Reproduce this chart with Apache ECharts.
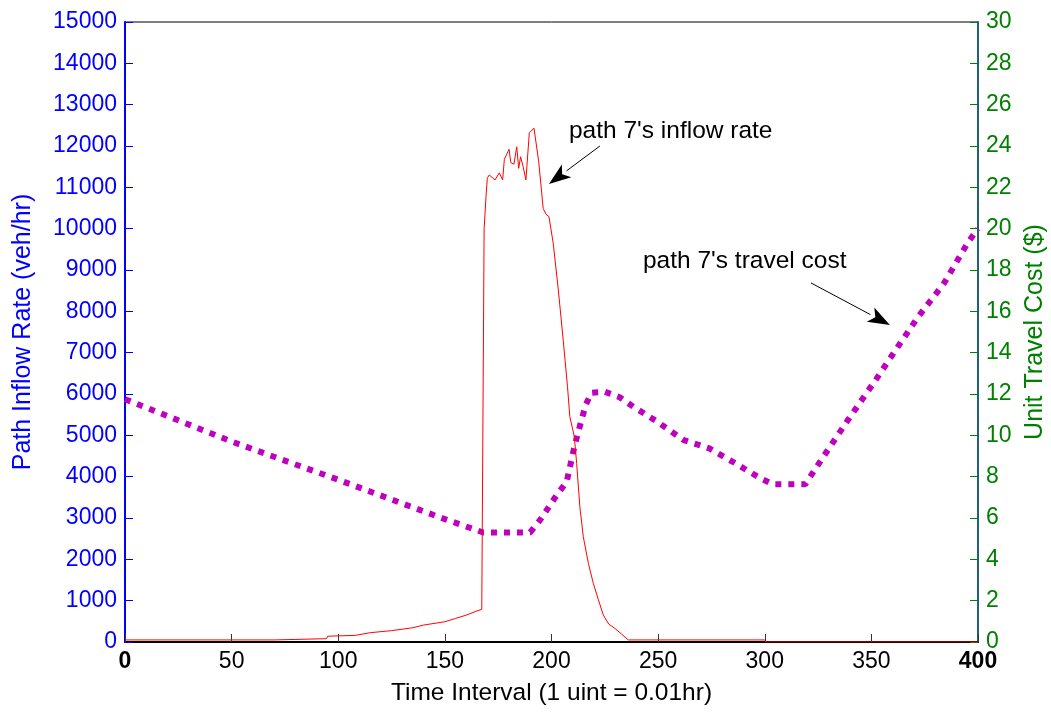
<!DOCTYPE html>
<html>
<head>
<meta charset="utf-8">
<script src="https://cdn.jsdelivr.net/npm/echarts@6/dist/echarts.min.js"></script>
<style>
  html, body { margin: 0; padding: 0; background: #fff; }
  #chart { width: 1051px; height: 714px; }
</style>
</head>
<body>
<div id="chart"></div>
<script>
// Path 7: inflow rate (veh/hr) over time intervals
const inflowT = [0, 70, 70.5, 94.5, 95, 108, 115, 125, 135, 140, 150, 155, 160, 165, 167.3, 168.4, 169.3, 169.9, 170.8, 173.5, 175.5, 177.1, 177.9, 180.1, 180.9, 182.4, 183.7, 184.6, 185.5, 186.7, 188, 189.6, 191.8, 194, 196.1, 197.4, 198.8, 200.8, 203.2, 205.5, 207.5, 208.6, 210.7, 211.8, 213.3, 214.9, 217.3, 219.6, 222, 224.3, 226.9, 229.7, 232.9, 236, 300, 300.5, 400];
const inflowV = [50, 50, 80, 80, 140, 160, 225, 275, 345, 410, 490, 570, 650, 750, 790, 10000, 10780, 11220, 11300, 11180, 11350, 11180, 11680, 11920, 11600, 11560, 11980, 11460, 11740, 11500, 11180, 12320, 12430, 11620, 10490, 10350, 10290, 9650, 8520, 7300, 6180, 5450, 4970, 4320, 3270, 2550, 1900, 1420, 1020, 650, 430, 330, 190, 50, 50, 0, 0];

// Path 7: unit travel cost ($)
const costT = [0, 50, 100, 149, 168, 190, 194.6, 202.4, 207.1, 210.2, 212.1, 214.1, 216, 218.8, 225, 232, 238.4, 249, 262, 274, 285, 298, 304, 319, 327, 339, 352, 364, 372, 384, 395.5, 400];
const costV = [11.75, 9.7, 7.85, 5.98, 5.3, 5.3, 5.9, 7.1, 7.75, 9.2, 10.0, 10.74, 11.47, 12.06, 12.11, 11.84, 11.38, 10.7, 9.77, 9.37, 8.72, 7.92, 7.63, 7.63, 8.89, 10.74, 12.68, 14.53, 15.74, 17.35, 19.37, 20.0];

// Annotations in data coordinates (time, inflow rate)
const notes = [
  { text: "path 7's inflow rate", at: [208.2, 12364], tail: [222.7, 12000], head: [198.8, 11081] },
  { text: "path 7's travel cost", at: [242.9, 9218], tail: [321.7, 8686], head: [358.7, 7670] }
];

const FONT = 'Liberation Sans, Arial, sans-serif';
const zip = (a, b) => a.map((x, i) => [x, b[i]]);

const chart = echarts.init(document.getElementById('chart'), null, { renderer: 'canvas' });

chart.setOption({
  animation: false,
  backgroundColor: '#fff',
  grid: {
    left: 125, right: 73, top: 22, bottom: 72, containLabel: false, outerBoundsMode: 'none',
    show: true, borderColor: '#000', borderWidth: 1
  },
  xAxis: {
    type: 'value', min: 0, max: 400, interval: 50,
    name: 'Time Interval (1 uint = 0.01hr)', nameLocation: 'middle', nameGap: 39,
    nameTextStyle: { color: '#000', fontSize: 24.5, fontFamily: FONT },
    axisLine: { show: true, lineStyle: { color: '#000', width: 2 } },
    axisTick: { show: true, inside: true, length: 8, lineStyle: { color: '#333' } },
    splitLine: { show: false },
    axisLabel: {
      color: '#000', fontSize: 23, fontFamily: FONT, margin: 8,
      formatter: v => (v === 0 || v === 400) ? '{b|' + v + '}' : String(v),
      rich: { b: { fontWeight: 'bold', fontSize: 23, fontFamily: FONT, color: '#000' } }
    }
  },
  yAxis: [
    {
      type: 'value', min: 0, max: 15000, interval: 1000, position: 'left',
      name: 'Path Inflow Rate (veh/hr)', nameLocation: 'middle', nameGap: 89, nameRotate: 90,
      nameTextStyle: { color: '#0000ff', fontSize: 25, fontFamily: FONT },
      axisLine: { show: true, lineStyle: { color: '#0000ff', width: 2 } },
      axisTick: { show: true, inside: true, length: 8, lineStyle: { color: '#0000ff' } },
      splitLine: { show: false },
      axisLabel: { color: '#0000ff', fontSize: 23, fontFamily: FONT, margin: 8, formatter: v => String(v) }
    },
    {
      type: 'value', min: 0, max: 30, interval: 2, position: 'right',
      name: 'Unit Travel Cost ($)', nameLocation: 'middle', nameGap: 40, nameRotate: 90,
      nameTextStyle: { color: '#008000', fontSize: 25, fontFamily: FONT },
      axisLine: { show: true, lineStyle: { color: '#20607a', width: 2 } },
      axisTick: { show: true, inside: true, length: 8, lineStyle: { color: '#008000' } },
      splitLine: { show: false },
      axisLabel: { color: '#008000', fontSize: 23, fontFamily: FONT, margin: 8, formatter: v => String(v) }
    }
  ],
  series: [
    {
      name: 'inflow', type: 'line', yAxisIndex: 0, showSymbol: false, symbol: 'none',
      data: zip(inflowT, inflowV),
      lineStyle: { color: '#ff0000', width: 1 }, z: 3
    },
    {
      name: 'cost', type: 'line', yAxisIndex: 1, showSymbol: false, symbol: 'none',
      data: zip(costT, costV),
      lineStyle: { color: '#bf00bf', width: 6, type: [6, 7], cap: 'butt' }, z: 2
    }
  ]
});

// Text labels with arrows, placed through the axes' own scales
function arrow(p0, p1, len, half) {
  const dx = p1[0] - p0[0], dy = p1[1] - p0[1];
  const d = Math.hypot(dx, dy), ux = dx / d, uy = dy / d;
  const bx = p1[0] - ux * len, by = p1[1] - uy * len;
  return [
    { type: 'line', shape: { x1: p0[0], y1: p0[1], x2: bx, y2: by }, style: { stroke: '#000', lineWidth: 1 } },
    { type: 'polygon', shape: { points: [p1, [bx - uy * half, by + ux * half], [bx + ux * len * 0.25, by + uy * len * 0.25], [bx + uy * half, by - ux * half]] }, style: { fill: '#000' } }
  ];
}
const px = p => chart.convertToPixel({ xAxisIndex: 0, yAxisIndex: 0 }, p);
const elements = [];
notes.forEach(n => {
  const a = px(n.at);
  elements.push({ type: 'text', x: a[0], y: a[1], style: { text: n.text, fill: '#000', font: '24.5px ' + FONT, textAlign: 'left', textVerticalAlign: 'middle' } });
  arrow(px(n.tail), px(n.head), 22, 8).forEach(e => elements.push(e));
});
chart.setOption({ graphic: { elements } });
</script>
</body>
</html>
